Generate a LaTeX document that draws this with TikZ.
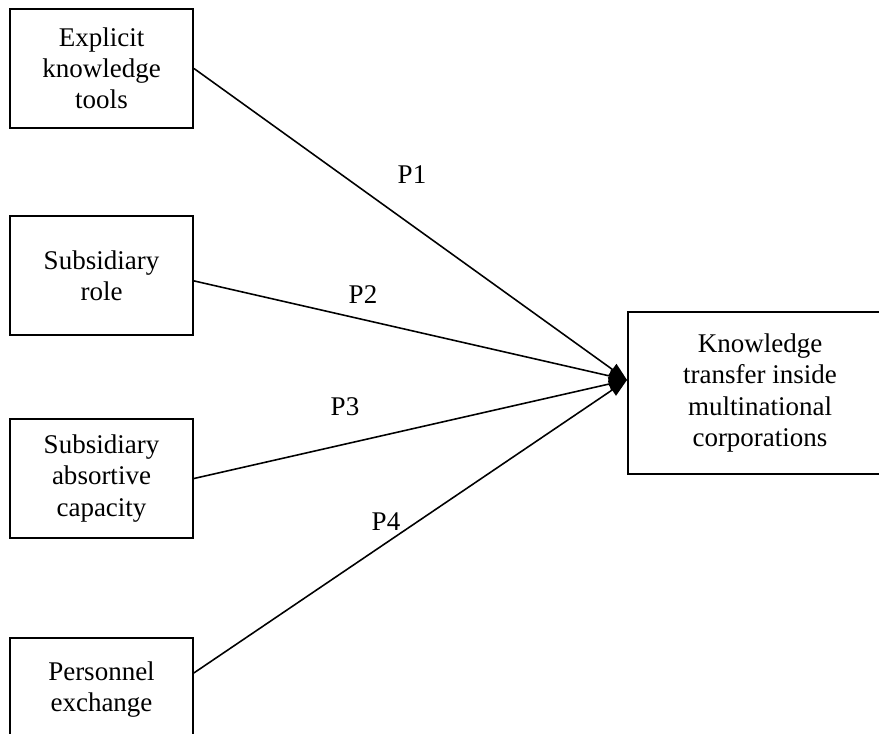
\documentclass[tikz,border=0pt]{standalone}
\usepackage{fontspec}
\setmainfont{Liberation Serif}
\usepackage{tikz}
\usetikzlibrary{positioning}
\usetikzlibrary{arrows.meta}
\pgfdeclarelayer{nodelayer}
\pgfdeclarelayer{edgelayer}
\pgfsetlayers{nodelayer,edgelayer,main}
\tikzset{
    box/.style = {draw, line width=0.9pt, align=center, inner sep=0pt,
        minimum width=81.3pt, font=\fontsize{12pt}{13.8pt}\selectfont},
    plabel/.style = {inner sep=0pt, font=\fontsize{12pt}{13.8pt}\selectfont},
    link/.style = {line width=0.7pt, -{Triangle[length=8pt, width=6pt]}}
}

\begin{document}
\begin{tikzpicture}[x=0.4444pt, y=-0.4444pt]
  \useasboundingbox (0,0) rectangle (879,734);
  \begin{pgfonlayer}{nodelayer}
    \node [style=box, minimum height=52.9pt] (0) at (101.5, 68.5) {Explicit\\knowledge\\tools};
    \node [style=box, minimum height=52.9pt] (1) at (101.5, 275.5) {Subsidiary\\role};
    \node [style=box, minimum height=53.3pt] (2) at (101.5, 478.5) {Subsidiary\\absortive\\capacity};
    \node [style=box, minimum height=46.2pt] (3) at (101.5, 690) {Personnel\\exchange};
    \node [style=box, minimum width=117.3pt, minimum height=72pt] (4) at (760, 393) {Knowledge\\transfer inside\\multinational\\corporations};
    \node [style=plabel] (5) at (412, 175) {P1};
    \node [style=plabel] (6) at (363, 295) {P2};
    \node [style=plabel] (7) at (345, 407) {P3};
    \node [style=plabel] (8) at (386, 522) {P4};
  \end{pgfonlayer}
  \begin{pgfonlayer}{edgelayer}
    \draw [style=link] (0.east) to ([yshift=5.8pt]4.west);
    \draw [style=link] ([yshift=-2.4pt]1.east) to ([yshift=5.8pt]4.west);
    \draw [style=link] (2.east) to ([yshift=5.8pt]4.west);
    \draw [style=link] ([yshift=7.6pt]3.east) to ([yshift=5.8pt]4.west);
  \end{pgfonlayer}
\end{tikzpicture}
\end{document}
